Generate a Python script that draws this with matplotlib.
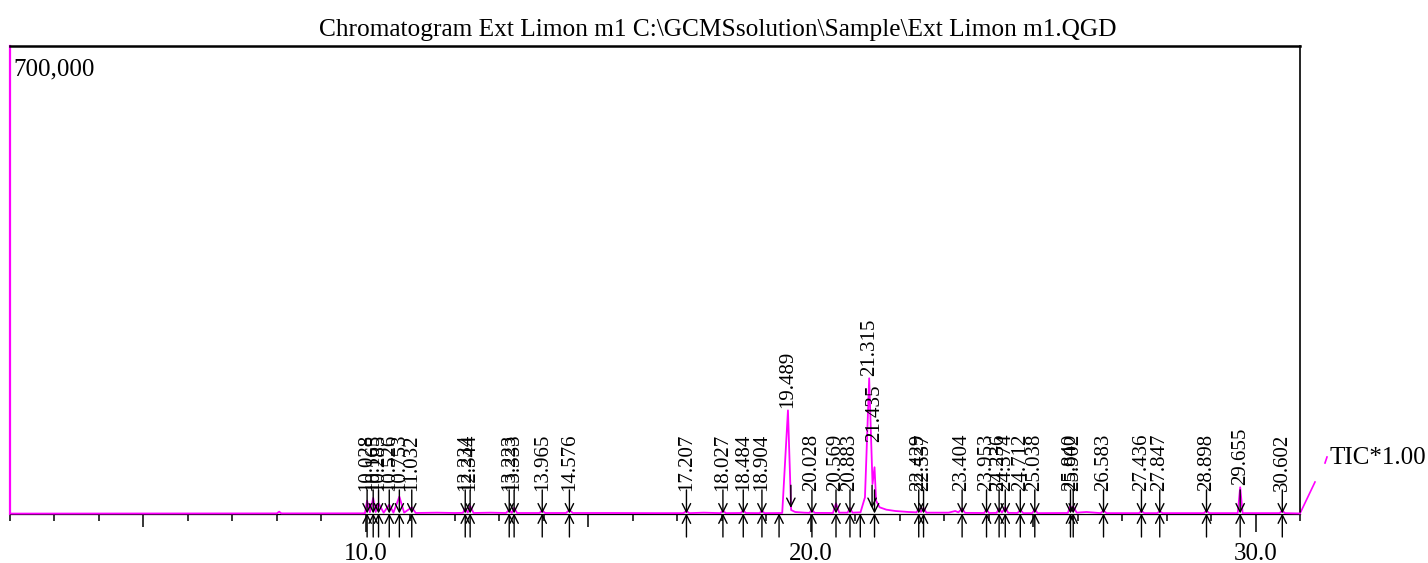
import matplotlib
matplotlib.use("Agg")
import matplotlib.pyplot as plt

plt.rcParams['font.family'] = ['Liberation Serif', 'DejaVu Serif']

# ---------------- data ----------------
title = r"Chromatogram Ext Limon m1 C:\GCMSsolution\Sample\Ext Limon m1.QGD"
y_max_label = "700,000"
trace_label = "TIC*1.00"

x_tick_values = [10.0, 20.0, 30.0]
x_tick_labels = ["10.0", "20.0", "30.0"]

peak_labels = ["10.028", "10.165", "10.285", "10.526", "10.753", "11.032",
               "12.234", "12.344", "13.223", "13.333", "13.965", "14.576",
               "17.207", "18.027", "18.484", "18.904", "19.489", "20.028",
               "20.569", "20.883", "21.315", "21.435", "22.429", "22.537",
               "23.404", "23.953", "24.236", "24.374", "24.712", "25.038",
               "25.840", "25.902", "26.583", "27.436", "27.847", "28.898",
               "29.655", "30.602"]
peak_height = [20000, 24000, 16000, 14000, 26000, 10000,
               8000, 12000, 6000, 9000, 5000, 6000,
               4500, 5000, 5500, 5000, 155000, 6000,
               16000, 9000, 203000, 70000, 8000, 9000,
               8000, 7000, 8000, 10000, 6000, 7000,
               12000, 11000, 5000, 4500, 4000, 5000,
               40000, 5000]

trace_t = [2.00, 4.00, 6.00, 8.00, 8.05, 8.10, 9.90, 9.98,
           10.028, 10.09, 10.165, 10.22, 10.285, 10.40, 10.526, 10.62,
           10.753, 10.86, 11.032, 11.12, 11.60, 12.00, 12.18, 12.234,
           12.29, 12.344, 12.42, 12.80, 13.15, 13.223, 13.28, 13.333,
           13.40, 13.90, 13.965, 14.03, 14.50, 14.576, 14.65, 15.50,
           16.50, 17.14, 17.207, 17.27, 17.60, 17.97, 18.027, 18.09,
           18.43, 18.484, 18.54, 18.85, 18.904, 18.96, 19.36, 19.489,
           19.56, 19.65, 19.85, 19.97, 20.028, 20.09, 20.50, 20.569,
           20.64, 20.83, 20.883, 20.94, 21.12, 21.22, 21.315, 21.39,
           21.435, 21.47, 21.55, 21.70, 21.90, 22.20, 22.38, 22.429,
           22.48, 22.537, 22.60, 23.10, 23.25, 23.32, 23.404, 23.47,
           23.90, 23.953, 24.01, 24.18, 24.236, 24.30, 24.374, 24.44,
           24.65, 24.712, 24.78, 24.98, 25.038, 25.10, 25.78, 25.840,
           25.87, 25.902, 25.98, 26.20, 26.52, 26.583, 26.65, 27.38,
           27.436, 27.50, 27.79, 27.847, 27.91, 28.84, 28.898, 28.96,
           29.60, 29.655, 29.71, 30.54, 30.602, 30.66, 31.00]
trace_y = [600, 700, 800, 900, 3500, 900, 1000, 1200,
           20000, 2500, 24000, 3000, 16000, 2000, 14000, 2000,
           26000, 2000, 10000, 1500, 2000, 1500, 1700, 8000,
           2000, 12000, 1500, 2000, 1500, 6000, 1500, 9000,
           1500, 1500, 5000, 1500, 1500, 6000, 1500, 1500,
           1300, 1300, 4500, 1300, 2000, 1300, 5000, 1300,
           1500, 5500, 1500, 1300, 5000, 1300, 1500, 155000,
           6000, 3000, 2000, 1700, 6000, 1700, 1500, 16000,
           2000, 2000, 9000, 2000, 2500, 25000, 203000, 45000,
           70000, 20000, 10000, 6500, 4500, 3000, 2500, 8000,
           3000, 9000, 2000, 2000, 4500, 2500, 8000, 1700,
           1500, 7000, 1500, 1700, 8000, 2000, 10000, 1700,
           1500, 6000, 1300, 1300, 7000, 1300, 1500, 12000,
           5000, 11000, 2000, 3000, 1300, 5000, 1300, 1300,
           4500, 1300, 1300, 4000, 1300, 1300, 5000, 1300,
           1300, 40000, 1300, 1300, 5000, 1300, 800]

# ---------------- figure ----------------
W, H = 1428, 563
fig = plt.figure(figsize=(W / 100, H / 100), dpi=100)
ax = fig.add_axes([10 / W, 1 - 514 / H, (1300 - 10) / W, (514 - 46) / H])

XMIN, XMAX = 2.0, 31.0
YMAX = 700000
ax.set_xlim(XMIN, XMAX)
ax.set_ylim(0, YMAX)
px_y = YMAX / 468.0  # counts per pixel
px_x = (XMAX - XMIN) / 1290.0

MAG = '#ff00ff'
ax.plot(trace_t, trace_y, color=MAG, lw=1.3, zorder=4, clip_on=False)

# spines
ax.spines['left'].set_color(MAG)
ax.spines['left'].set_linewidth(1.6)
ax.spines['top'].set_color('black')
ax.spines['top'].set_linewidth(1.8)
ax.spines['right'].set_color('black')
ax.spines['right'].set_linewidth(1.2)
ax.spines['bottom'].set_color('black')
ax.spines['bottom'].set_linewidth(0.9)

# ticks
ax.set_yticks([])
ax.set_xticks(x_tick_values)
ax.set_xticklabels(x_tick_labels)
minor = [v for v in range(2, 32) if v % 5 != 0]
ax.set_xticks(minor, minor=True)
ax.tick_params(axis='x', which='major', length=13, width=1.1, pad=8,
               labelsize=18, direction='out', color='black')
ax.tick_params(axis='x', which='minor', length=5, width=1.1, direction='out')
trans = ax.get_xaxis_transform()
ax.vlines([5, 15, 25], -13 / 468, 0, transform=trans, color='black', lw=1.1,
          clip_on=False)

# peak markers
arrow_kw = dict(arrowstyle='->', lw=1.0, color='black', shrinkA=0, shrinkB=0,
                mutation_scale=15)
label_nudge = {"21.435": 107000}
for lab, h in zip(peak_labels, peak_height):
    t = float(lab)
    big = h > 100000
    # up arrow from below the axis
    tu = t - 0.2 if big else t
    ax.annotate('', xy=(tu, 800), xytext=(tu, -23 * px_y),
                arrowprops=arrow_kw, annotation_clip=False, zorder=5)
    # down arrow from above
    td = t + 0.065 if big else t
    top = 36000 if not big else 43000
    bot = 800 if not big else 9000
    ax.annotate('', xy=(td, bot), xytext=(td, top),
                arrowprops=arrow_kw, annotation_clip=False, zorder=5)
    yb = label_nudge.get(lab, max(h + 3000, 35000))
    ax.text(t, yb, lab, rotation=90, ha='center', va='bottom', fontsize=15,
            color='black', zorder=6)

# trace tail to the TIC label
ax.plot([XMAX, XMAX + 15 * px_x], [800, 32 * px_y], color=MAG, lw=1.2,
        clip_on=False)
ax.plot([XMAX + 25 * px_x, XMAX + 27 * px_x], [51 * px_y, 57 * px_y],
        color=MAG, lw=1.2, clip_on=False)
fig.text(1330 / W, 1 - 458 / H, trace_label, fontsize=18, ha='left',
         va='center')

ax.text(3 / 1290, 1 - 12 / 468, y_max_label, transform=ax.transAxes,
        fontsize=18, ha='left', va='top')
fig.text(718 / W, 1 - 30 / H, title, fontsize=18.3, ha='center', va='center')

fig.savefig('out.png', dpi=100)
